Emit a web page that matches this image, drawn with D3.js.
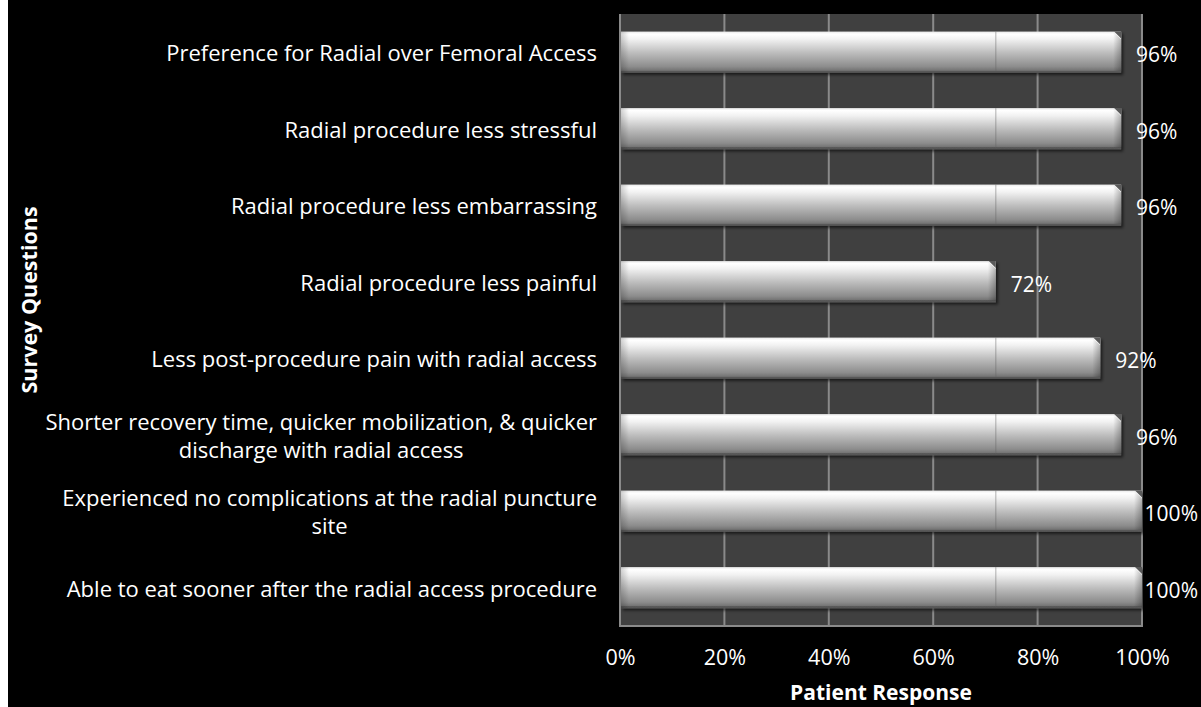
<!DOCTYPE html>
<meta charset="utf-8">
<style>
body { margin: 0; background: #fff; }
svg { display: block; }
.lbl { font-family: "Open Sans", sans-serif; fill: #fff; }
</style>
<body>
<script src="https://cdn.jsdelivr.net/npm/d3@7"></script>
<script>
// survey questions, top to bottom
var questions = [
  ["Preference for Radial over Femoral Access"],
  ["Radial procedure less stressful"],
  ["Radial procedure less embarrassing"],
  ["Radial procedure less painful"],
  ["Less post-procedure pain with radial access"],
  ["Shorter recovery time, quicker mobilization, & quicker", "discharge with radial access"],
  ["Experienced no complications at the radial puncture", "site"],
  ["Able to eat sooner after the radial access procedure"]
];
var responses = [0.96, 0.96, 0.96, 0.72, 0.92, 0.96, 1.00, 1.00];
var ticks = [0, 0.2, 0.4, 0.6, 0.8, 1.0];

var W = 1201, H = 707;
var plot = {left: 620, right: 1142, top: 14, bottom: 626};

var svg = d3.select("body").append("svg")
    .attr("width", W).attr("height", H);

// white strip on the left, black page
svg.append("rect").attr("width", W).attr("height", H).attr("fill", "#fff");
svg.append("rect").attr("x", 8).attr("width", W - 8).attr("height", H).attr("fill", "#000");

var defs = svg.append("defs");
var g1 = defs.append("linearGradient").attr("id", "barGrad")
    .attr("x1", 0).attr("y1", 0).attr("x2", 0).attr("y2", 1);
[["0%", "#e8e8e8"], ["6%", "#ffffff"], ["18%", "#f2f2f2"], ["50%", "#bfbfbf"],
 ["85%", "#8c8c8c"], ["94%", "#747474"], ["95%", "#5a5a5a"], ["100%", "#555"]]
  .forEach(function(s) { g1.append("stop").attr("offset", s[0]).attr("stop-color", s[1]); });

var g2 = defs.append("linearGradient").attr("id", "endGrad")
    .attr("x1", 0).attr("y1", 0).attr("x2", 1).attr("y2", 0);
g2.append("stop").attr("offset", "0%").attr("stop-color", "#000").attr("stop-opacity", 0.0);
g2.append("stop").attr("offset", "100%").attr("stop-color", "#000").attr("stop-opacity", 0.25);

var g3 = defs.append("linearGradient").attr("id", "startGrad")
    .attr("x1", 0).attr("y1", 0).attr("x2", 1).attr("y2", 0);
g3.append("stop").attr("offset", "0%").attr("stop-color", "#000").attr("stop-opacity", 0.18);
g3.append("stop").attr("offset", "100%").attr("stop-color", "#000").attr("stop-opacity", 0.0);

var shadow = defs.append("filter").attr("id", "shadow")
    .attr("x", "-5%").attr("y", "-20%").attr("width", "110%").attr("height", "150%");
shadow.append("feDropShadow").attr("dx", 2).attr("dy", 2)
    .attr("stdDeviation", 1.5).attr("flood-color", "#000").attr("flood-opacity", 0.6);

var x = d3.scaleLinear().domain([0, 1]).range([plot.left, plot.right]);
var y = d3.scaleBand().domain(d3.range(questions.length))
    .range([plot.top, plot.bottom]).paddingInner(0.46).paddingOuter(0.23);

// plot area
svg.append("rect")
    .attr("x", plot.left).attr("y", plot.top)
    .attr("width", plot.right - plot.left).attr("height", plot.bottom - plot.top)
    .attr("fill", "#404040");

svg.append("g").selectAll("line")
  .data(ticks.slice(1, -1))
  .join("line")
    .attr("x1", d => x(d)).attr("x2", d => x(d))
    .attr("y1", plot.top).attr("y2", plot.bottom)
    .attr("stroke", "#8a8a8a").attr("stroke-width", 2);

svg.append("path")
    .attr("d", "M" + plot.left + "," + plot.top + "V" + plot.bottom + "H" + plot.right + "V" + plot.top)
    .attr("fill", "none").attr("stroke", "#8a8a8a").attr("stroke-width", 2);

// bars
var bars = svg.append("g").selectAll("g")
  .data(responses)
  .join("g")
    .attr("transform", (d, i) => "translate(0," + y(i) + ")");

var bh = y.bandwidth();
bars.append("rect")
    .attr("x", x(0) + 1).attr("y", 0)
    .attr("width", d => x(d) - x(0) - 1).attr("height", bh)
    .attr("fill", "url(#barGrad)")
    .attr("filter", "url(#shadow)");

// bevelled ends
bars.append("rect")
    .attr("x", x(0) + 1).attr("y", 0).attr("width", 8).attr("height", bh)
    .attr("fill", "url(#startGrad)");
bars.append("path")
    .attr("d", d => "M" + (x(d) - 8) + ",0L" + x(d) + ",8V" + (bh - 2) + "L" + (x(d) - 8) + "," + (bh - 2) + "Z")
    .attr("fill", "url(#endGrad)");
bars.append("path")
    .attr("d", d => "M" + (x(d) - 7) + ",0L" + x(d) + ",7V0Z")
    .attr("fill", "#5a5a5a");

// faint seam at 72%
bars.filter(d => d > 0.72).append("line")
    .attr("x1", x(0.72)).attr("x2", x(0.72))
    .attr("y1", 0).attr("y2", bh - 2)
    .attr("stroke", "#666").attr("stroke-opacity", 0.5).attr("stroke-width", 1);

// value labels, kept inside the chart
var labelRight = 1198;
bars.append("text")
    .attr("class", "lbl")
    .attr("font-size", 21)
    .attr("y", bh / 2 + 2)
    .attr("dominant-baseline", "central")
    .text(d => Math.round(d * 100) + "%")
    .each(function(d) {
      var w = this.getComputedTextLength();
      d3.select(this).attr("x", Math.min(x(d) + 15, labelRight - w));
    });

// category labels (second lines centred under the first)
var catX = 597, lineGap = 28;
var catG = svg.append("g");
questions.forEach(function(lines, i) {
  var y0 = y(i) + bh / 2 - (lines.length - 1) * lineGap / 2;
  var w0 = 0;
  lines.forEach(function(l, k) {
    var t = catG.append("text")
        .attr("class", "lbl")
        .attr("font-size", 22)
        .attr("dominant-baseline", "central")
        .attr("y", y0 + k * lineGap)
        .text(l);
    if (k === 0) {
      t.attr("x", catX).attr("text-anchor", "end");
      w0 = t.node().getComputedTextLength();
    } else {
      t.attr("x", catX - w0 / 2).attr("text-anchor", "middle");
    }
  });
});

// x axis tick labels
var ax = svg.append("g")
    .attr("transform", "translate(0," + plot.bottom + ")")
    .call(d3.axisBottom(x).tickValues(ticks).tickFormat(d3.format(".0%")).tickSize(0).tickPadding(24));
ax.select(".domain").remove();
ax.selectAll("text")
    .attr("class", "lbl")
    .attr("font-size", 21.5)
    .attr("fill", "#fff");

// axis titles
svg.append("text")
    .attr("class", "lbl")
    .attr("x", (plot.left + plot.right) / 2).attr("y", 700)
    .attr("text-anchor", "middle")
    .attr("font-size", 21).attr("font-weight", "bold")
    .text("Patient Response");

svg.append("text")
    .attr("class", "lbl")
    .attr("transform", "translate(28,300) rotate(-90)")
    .attr("text-anchor", "middle").attr("dominant-baseline", "central")
    .attr("font-size", 21.5).attr("font-weight", "bold")
    .text("Survey Questions");
</script>
</body>
